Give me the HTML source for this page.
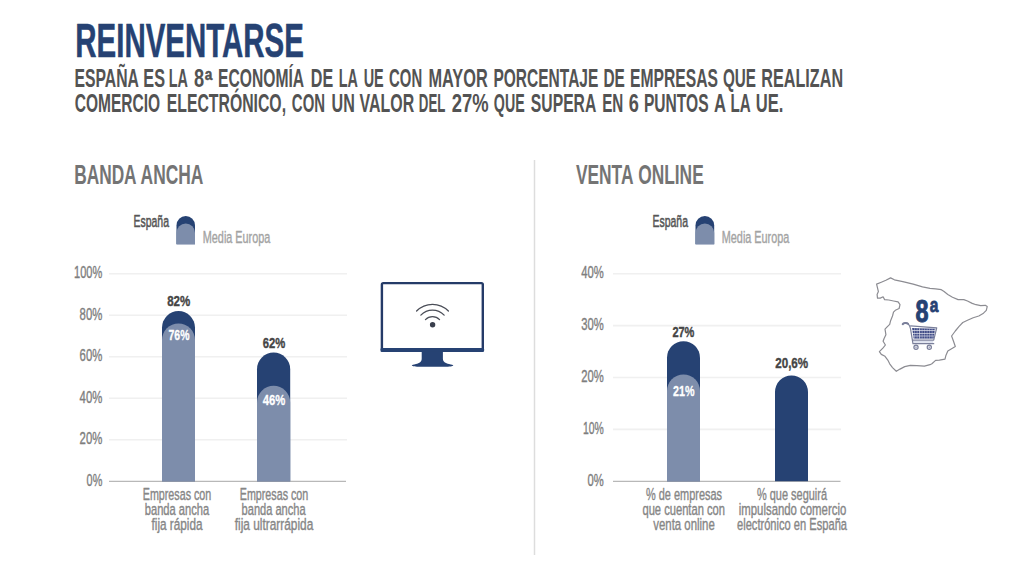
<!DOCTYPE html>
<html lang="es"><head><meta charset="utf-8"><title>Reinventarse</title>
<style>
html,body{margin:0;padding:0;background:#fff;}
body{width:1024px;height:576px;overflow:hidden;font-family:"Liberation Sans",sans-serif;}
svg{display:block;font-family:"Liberation Sans",sans-serif;}
</style></head><body>
<svg width="1024" height="576" viewBox="0 0 1024 576">
<rect width="1024" height="576" fill="#ffffff"/>
<text x="75.3" y="56.6" font-size="47.6" fill="#264273" font-weight="bold" text-anchor="start" textLength="228.5" lengthAdjust="spacingAndGlyphs" stroke="#264273" stroke-width="0.5" stroke-linejoin="round">REINVENTARSE</text>
<text x="74.51" y="87.1" font-size="25.3" fill="#535353" font-weight="bold" text-anchor="start" textLength="64.37" lengthAdjust="spacingAndGlyphs">ESPAÑA</text>
<text x="143.36" y="87.1" font-size="25.3" fill="#535353" font-weight="bold" text-anchor="start" textLength="21.67" lengthAdjust="spacingAndGlyphs">ES</text>
<text x="168.77" y="87.1" font-size="25.3" fill="#535353" font-weight="bold" text-anchor="start" textLength="19.18" lengthAdjust="spacingAndGlyphs">LA</text>
<text x="193.9" y="87.1" font-size="25.3" fill="#535353" font-weight="bold" text-anchor="start" textLength="10.12" lengthAdjust="spacingAndGlyphs">8</text>
<text x="218.11" y="87.1" font-size="25.3" fill="#535353" font-weight="bold" text-anchor="start" textLength="86.07" lengthAdjust="spacingAndGlyphs">ECONOMÍA</text>
<text x="310.75" y="87.1" font-size="25.3" fill="#535353" font-weight="bold" text-anchor="start" textLength="22.38" lengthAdjust="spacingAndGlyphs">DE</text>
<text x="338.77" y="87.1" font-size="25.3" fill="#535353" font-weight="bold" text-anchor="start" textLength="19.18" lengthAdjust="spacingAndGlyphs">LA</text>
<text x="363.65" y="87.1" font-size="25.3" fill="#535353" font-weight="bold" text-anchor="start" textLength="20.09" lengthAdjust="spacingAndGlyphs">UE</text>
<text x="389.11" y="87.1" font-size="25.3" fill="#535353" font-weight="bold" text-anchor="start" textLength="33.06" lengthAdjust="spacingAndGlyphs">CON</text>
<text x="428.42" y="87.1" font-size="25.3" fill="#535353" font-weight="bold" text-anchor="start" textLength="59.3" lengthAdjust="spacingAndGlyphs">MAYOR</text>
<text x="493.44" y="87.1" font-size="25.3" fill="#535353" font-weight="bold" text-anchor="start" textLength="104.9" lengthAdjust="spacingAndGlyphs">PORCENTAJE</text>
<text x="603.45" y="87.1" font-size="25.3" fill="#535353" font-weight="bold" text-anchor="start" textLength="21.46" lengthAdjust="spacingAndGlyphs">DE</text>
<text x="630.11" y="87.1" font-size="25.3" fill="#535353" font-weight="bold" text-anchor="start" textLength="87.86" lengthAdjust="spacingAndGlyphs">EMPRESAS</text>
<text x="722.95" y="87.1" font-size="25.3" fill="#535353" font-weight="bold" text-anchor="start" textLength="33.02" lengthAdjust="spacingAndGlyphs">QUE</text>
<text x="761.36" y="87.1" font-size="25.3" fill="#535353" font-weight="bold" text-anchor="start" textLength="81.74" lengthAdjust="spacingAndGlyphs">REALIZAN</text>
<text x="74.71" y="111.7" font-size="25.3" fill="#535353" font-weight="bold" text-anchor="start" textLength="85.42" lengthAdjust="spacingAndGlyphs">COMERCIO</text>
<text x="166.79" y="111.7" font-size="25.3" fill="#535353" font-weight="bold" text-anchor="start" textLength="119.23" lengthAdjust="spacingAndGlyphs">ELECTRÓNICO,</text>
<text x="291.87" y="111.7" font-size="25.3" fill="#535353" font-weight="bold" text-anchor="start" textLength="33.19" lengthAdjust="spacingAndGlyphs">CON</text>
<text x="331.55" y="111.7" font-size="25.3" fill="#535353" font-weight="bold" text-anchor="start" textLength="23.27" lengthAdjust="spacingAndGlyphs">UN</text>
<text x="359.55" y="111.7" font-size="25.3" fill="#535353" font-weight="bold" text-anchor="start" textLength="54.63" lengthAdjust="spacingAndGlyphs">VALOR</text>
<text x="418.85" y="111.7" font-size="25.3" fill="#535353" font-weight="bold" text-anchor="start" textLength="26.54" lengthAdjust="spacingAndGlyphs">DEL</text>
<text x="451.77" y="111.7" font-size="25.3" fill="#535353" font-weight="bold" text-anchor="start" textLength="36.83" lengthAdjust="spacingAndGlyphs">27%</text>
<text x="493.86" y="111.7" font-size="25.3" fill="#535353" font-weight="bold" text-anchor="start" textLength="30.85" lengthAdjust="spacingAndGlyphs">QUE</text>
<text x="530.87" y="111.7" font-size="25.3" fill="#535353" font-weight="bold" text-anchor="start" textLength="65.4" lengthAdjust="spacingAndGlyphs">SUPERA</text>
<text x="602.16" y="111.7" font-size="25.3" fill="#535353" font-weight="bold" text-anchor="start" textLength="21.09" lengthAdjust="spacingAndGlyphs">EN</text>
<text x="628.76" y="111.7" font-size="25.3" fill="#535353" font-weight="bold" text-anchor="start" textLength="10.1" lengthAdjust="spacingAndGlyphs">6</text>
<text x="643.97" y="111.7" font-size="25.3" fill="#535353" font-weight="bold" text-anchor="start" textLength="64.66" lengthAdjust="spacingAndGlyphs">PUNTOS</text>
<text x="713.88" y="111.7" font-size="25.3" fill="#535353" font-weight="bold" text-anchor="start" textLength="12.04" lengthAdjust="spacingAndGlyphs">A</text>
<text x="730.52" y="111.7" font-size="25.3" fill="#535353" font-weight="bold" text-anchor="start" textLength="20.22" lengthAdjust="spacingAndGlyphs">LA</text>
<text x="755.68" y="111.7" font-size="25.3" fill="#535353" font-weight="bold" text-anchor="start" textLength="27.62" lengthAdjust="spacingAndGlyphs">UE.</text>
<text x="204.7" y="79.7" font-size="16.5" fill="#535353" font-weight="bold" text-anchor="start" textLength="7.6" lengthAdjust="spacingAndGlyphs" stroke="#535353" stroke-width="0.5" stroke-linejoin="round">a</text>
<line x1="534.5" y1="160.00" x2="534.5" y2="555.00" stroke="#dddddd" stroke-width="1.5"/>
<text x="74.2" y="184.4" font-size="27.8" fill="#747474" font-weight="bold" text-anchor="start" textLength="62.4" lengthAdjust="spacingAndGlyphs">BANDA</text>
<text x="140.6" y="184.4" font-size="27.8" fill="#747474" font-weight="bold" text-anchor="start" textLength="62.8" lengthAdjust="spacingAndGlyphs">ANCHA</text>
<text x="133.5" y="226.7" font-size="16.8" fill="#565656" font-weight="normal" text-anchor="start" textLength="35.5" lengthAdjust="spacingAndGlyphs" stroke="#565656" stroke-width="0.55" stroke-linejoin="round">España</text>
<path d="M176.5 244.3V225.25A9.25 9.25 0 0 1 195.0 225.25V244.3Z" fill="#264273"/>
<path d="M176.5 244.3V232.75A9.25 9.25 0 0 1 195.0 232.75V244.3Z" fill="#7d8dab"/>
<text x="202.8" y="243.2" font-size="16.8" fill="#a3a3a3" font-weight="normal" text-anchor="start" textLength="67.5" lengthAdjust="spacingAndGlyphs" stroke="#a3a3a3" stroke-width="0.4" stroke-linejoin="round">Media Europa</text>
<line x1="109" y1="273.70" x2="347" y2="273.70" stroke="#f0f0f0" stroke-width="1.6"/>
<line x1="109" y1="315.22" x2="347" y2="315.22" stroke="#f0f0f0" stroke-width="1.6"/>
<line x1="109" y1="356.74" x2="347" y2="356.74" stroke="#f0f0f0" stroke-width="1.6"/>
<line x1="109" y1="398.26" x2="347" y2="398.26" stroke="#f0f0f0" stroke-width="1.6"/>
<line x1="109" y1="439.78" x2="347" y2="439.78" stroke="#f0f0f0" stroke-width="1.6"/>
<line x1="109" y1="481.30" x2="346" y2="481.30" stroke="#b8b8b8" stroke-width="1.3"/>
<text x="102.3" y="278.09999999999997" font-size="16.8" fill="#7e7e7e" font-weight="normal" text-anchor="end" textLength="28.2" lengthAdjust="spacingAndGlyphs" stroke="#7e7e7e" stroke-width="0.4" stroke-linejoin="round">100%</text>
<text x="102.3" y="319.62" font-size="16.8" fill="#7e7e7e" font-weight="normal" text-anchor="end" textLength="22.7" lengthAdjust="spacingAndGlyphs" stroke="#7e7e7e" stroke-width="0.4" stroke-linejoin="round">80%</text>
<text x="102.3" y="361.14" font-size="16.8" fill="#7e7e7e" font-weight="normal" text-anchor="end" textLength="22.7" lengthAdjust="spacingAndGlyphs" stroke="#7e7e7e" stroke-width="0.4" stroke-linejoin="round">60%</text>
<text x="102.3" y="402.65999999999997" font-size="16.8" fill="#7e7e7e" font-weight="normal" text-anchor="end" textLength="22.7" lengthAdjust="spacingAndGlyphs" stroke="#7e7e7e" stroke-width="0.4" stroke-linejoin="round">40%</text>
<text x="102.3" y="444.18" font-size="16.8" fill="#7e7e7e" font-weight="normal" text-anchor="end" textLength="22.7" lengthAdjust="spacingAndGlyphs" stroke="#7e7e7e" stroke-width="0.4" stroke-linejoin="round">20%</text>
<text x="102.3" y="485.7" font-size="16.8" fill="#7e7e7e" font-weight="normal" text-anchor="end" textLength="15.7" lengthAdjust="spacingAndGlyphs" stroke="#7e7e7e" stroke-width="0.4" stroke-linejoin="round">0%</text>
<path d="M162 481.3V327.57A16.5 16.5 0 0 1 195 327.57V481.3Z" fill="#264273"/>
<path d="M162 481.3V340.02A16.5 16.5 0 0 1 195 340.02V481.3Z" fill="#7d8dab"/>
<path d="M257 481.3V369.19A16.6 16.6 0 0 1 290.2 369.19V481.3Z" fill="#264273"/>
<path d="M257 481.3V402.40A16.6 16.6 0 0 1 290.2 402.40V481.3Z" fill="#7d8dab"/>
<text x="178.7" y="306.2" font-size="15.2" fill="#454545" font-weight="bold" text-anchor="middle" textLength="23" lengthAdjust="spacingAndGlyphs" stroke="#454545" stroke-width="0.4" stroke-linejoin="round">82%</text>
<text x="179" y="340" font-size="15.2" fill="#ffffff" font-weight="bold" text-anchor="middle" textLength="21" lengthAdjust="spacingAndGlyphs" stroke="#ffffff" stroke-width="0.3" stroke-linejoin="round">76%</text>
<text x="274" y="347.6" font-size="15.2" fill="#454545" font-weight="bold" text-anchor="middle" textLength="22.5" lengthAdjust="spacingAndGlyphs" stroke="#454545" stroke-width="0.4" stroke-linejoin="round">62%</text>
<text x="274" y="405" font-size="15.2" fill="#ffffff" font-weight="bold" text-anchor="middle" textLength="22.5" lengthAdjust="spacingAndGlyphs" stroke="#ffffff" stroke-width="0.3" stroke-linejoin="round">46%</text>
<text x="177" y="499.7" font-size="16.8" fill="#868686" font-weight="normal" text-anchor="middle" textLength="68.5" lengthAdjust="spacingAndGlyphs" stroke="#868686" stroke-width="0.4" stroke-linejoin="round">Empresas con</text>
<text x="177" y="515" font-size="16.8" fill="#868686" font-weight="normal" text-anchor="middle" textLength="64.5" lengthAdjust="spacingAndGlyphs" stroke="#868686" stroke-width="0.4" stroke-linejoin="round">banda ancha</text>
<text x="177" y="530.2" font-size="16.8" fill="#868686" font-weight="normal" text-anchor="middle" textLength="51" lengthAdjust="spacingAndGlyphs" stroke="#868686" stroke-width="0.4" stroke-linejoin="round">fija rápida</text>
<text x="274" y="499.7" font-size="16.8" fill="#868686" font-weight="normal" text-anchor="middle" textLength="68.5" lengthAdjust="spacingAndGlyphs" stroke="#868686" stroke-width="0.4" stroke-linejoin="round">Empresas con</text>
<text x="273.6" y="515" font-size="16.8" fill="#868686" font-weight="normal" text-anchor="middle" textLength="64" lengthAdjust="spacingAndGlyphs" stroke="#868686" stroke-width="0.4" stroke-linejoin="round">banda ancha</text>
<text x="274" y="530.2" font-size="16.8" fill="#868686" font-weight="normal" text-anchor="middle" textLength="78.5" lengthAdjust="spacingAndGlyphs" stroke="#868686" stroke-width="0.4" stroke-linejoin="round">fija ultrarrápida</text>
<rect x="381.9" y="283.1" width="100.9" height="66.9" rx="1.4" fill="#fff" stroke="#253b68" stroke-width="2.4"/>
<rect x="380.5" y="348.1" width="103.6" height="3.9" rx="1.2" fill="#264273"/>
<path d="M421.7 351.5H442.9V358.5C442.9 361.8 445.5 363.2 449 364C451.5 364.6 453.5 365 453.3 365.6C453 366.5 449 366.8 445 366.8H420C416 366.8 412 366.5 411.8 365.6C411.6 365 413.5 364.6 416 364C419.5 363.2 421.7 361.8 421.7 358.5Z" fill="#264273"/>
<circle cx="432.6" cy="324.8" r="2.7" fill="#3a3f4d"/>
<path d="M425.45 319.59A9.8 9.8 0 0 1 439.55 319.59" fill="none" stroke="#4a4d57" stroke-width="1.25" stroke-linecap="round"/>
<path d="M420.85 315.15A16.2 16.2 0 0 1 444.15 315.15" fill="none" stroke="#4a4d57" stroke-width="1.25" stroke-linecap="round"/>
<path d="M416.60 311.05A22.1 22.1 0 0 1 448.40 311.05" fill="none" stroke="#4a4d57" stroke-width="1.25" stroke-linecap="round"/>
<text x="575.9" y="184.4" font-size="27.8" fill="#747474" font-weight="bold" text-anchor="start" textLength="57.6" lengthAdjust="spacingAndGlyphs">VENTA</text>
<text x="638.2" y="184.4" font-size="27.8" fill="#747474" font-weight="bold" text-anchor="start" textLength="65.5" lengthAdjust="spacingAndGlyphs">ONLINE</text>
<text x="652.5" y="226.7" font-size="16.8" fill="#565656" font-weight="normal" text-anchor="start" textLength="35.5" lengthAdjust="spacingAndGlyphs" stroke="#565656" stroke-width="0.55" stroke-linejoin="round">España</text>
<path d="M695.5 244.3V225.35A9.35 9.35 0 0 1 714.2 225.35V244.3Z" fill="#264273"/>
<path d="M695.5 244.3V232.85A9.35 9.35 0 0 1 714.2 232.85V244.3Z" fill="#7d8dab"/>
<text x="721.8" y="243.2" font-size="16.8" fill="#a3a3a3" font-weight="normal" text-anchor="start" textLength="67.5" lengthAdjust="spacingAndGlyphs" stroke="#a3a3a3" stroke-width="0.4" stroke-linejoin="round">Media Europa</text>
<line x1="613" y1="273.70" x2="841" y2="273.70" stroke="#f0f0f0" stroke-width="1.6"/>
<line x1="613" y1="325.60" x2="841" y2="325.60" stroke="#f0f0f0" stroke-width="1.6"/>
<line x1="613" y1="377.50" x2="841" y2="377.50" stroke="#f0f0f0" stroke-width="1.6"/>
<line x1="613" y1="429.40" x2="841" y2="429.40" stroke="#f0f0f0" stroke-width="1.6"/>
<line x1="613" y1="481.30" x2="840.5" y2="481.30" stroke="#b8b8b8" stroke-width="1.3"/>
<text x="603.8" y="278.1" font-size="16.8" fill="#7e7e7e" font-weight="normal" text-anchor="end" textLength="22.5" lengthAdjust="spacingAndGlyphs" stroke="#7e7e7e" stroke-width="0.4" stroke-linejoin="round">40%</text>
<text x="603.8" y="330.0" font-size="16.8" fill="#7e7e7e" font-weight="normal" text-anchor="end" textLength="22.5" lengthAdjust="spacingAndGlyphs" stroke="#7e7e7e" stroke-width="0.4" stroke-linejoin="round">30%</text>
<text x="603.8" y="381.9" font-size="16.8" fill="#7e7e7e" font-weight="normal" text-anchor="end" textLength="22.5" lengthAdjust="spacingAndGlyphs" stroke="#7e7e7e" stroke-width="0.4" stroke-linejoin="round">20%</text>
<text x="603.8" y="433.8" font-size="16.8" fill="#7e7e7e" font-weight="normal" text-anchor="end" textLength="20.8" lengthAdjust="spacingAndGlyphs" stroke="#7e7e7e" stroke-width="0.4" stroke-linejoin="round">10%</text>
<text x="603.8" y="485.7" font-size="16.8" fill="#7e7e7e" font-weight="normal" text-anchor="end" textLength="16.2" lengthAdjust="spacingAndGlyphs" stroke="#7e7e7e" stroke-width="0.4" stroke-linejoin="round">0%</text>
<path d="M667 481.3V357.67A16.5 16.5 0 0 1 700 357.67V481.3Z" fill="#264273"/>
<path d="M667 481.3V391.00A16.5 16.5 0 0 1 700 391.00V481.3Z" fill="#7d8dab"/>
<path d="M775 481.3V392.00A16.5 16.5 0 0 1 808 392.00V481.3Z" fill="#264273"/>
<text x="683.4" y="336.8" font-size="15.2" fill="#454545" font-weight="bold" text-anchor="middle" textLength="22" lengthAdjust="spacingAndGlyphs" stroke="#454545" stroke-width="0.4" stroke-linejoin="round">27%</text>
<text x="683.7" y="396.3" font-size="15.2" fill="#ffffff" font-weight="bold" text-anchor="middle" textLength="21.5" lengthAdjust="spacingAndGlyphs" stroke="#ffffff" stroke-width="0.3" stroke-linejoin="round">21%</text>
<text x="791.7" y="368.3" font-size="15.2" fill="#454545" font-weight="bold" text-anchor="middle" textLength="33" lengthAdjust="spacingAndGlyphs" stroke="#454545" stroke-width="0.4" stroke-linejoin="round">20,6%</text>
<text x="684" y="499.7" font-size="16.8" fill="#868686" font-weight="normal" text-anchor="middle" textLength="76" lengthAdjust="spacingAndGlyphs" stroke="#868686" stroke-width="0.4" stroke-linejoin="round">% de empresas</text>
<text x="683.7" y="515" font-size="16.8" fill="#868686" font-weight="normal" text-anchor="middle" textLength="82.5" lengthAdjust="spacingAndGlyphs" stroke="#868686" stroke-width="0.4" stroke-linejoin="round">que cuentan con</text>
<text x="684" y="530.2" font-size="16.8" fill="#868686" font-weight="normal" text-anchor="middle" textLength="61.5" lengthAdjust="spacingAndGlyphs" stroke="#868686" stroke-width="0.4" stroke-linejoin="round">venta online</text>
<text x="792" y="499.7" font-size="16.8" fill="#868686" font-weight="normal" text-anchor="middle" textLength="70" lengthAdjust="spacingAndGlyphs" stroke="#868686" stroke-width="0.4" stroke-linejoin="round">% que seguirá</text>
<text x="792.5" y="515" font-size="16.8" fill="#868686" font-weight="normal" text-anchor="middle" textLength="107.5" lengthAdjust="spacingAndGlyphs" stroke="#868686" stroke-width="0.4" stroke-linejoin="round">impulsando comercio</text>
<text x="792" y="530.2" font-size="16.8" fill="#868686" font-weight="normal" text-anchor="middle" textLength="110" lengthAdjust="spacingAndGlyphs" stroke="#868686" stroke-width="0.4" stroke-linejoin="round">electrónico en España</text>
<path d="M876.6 284.1L881.3 282.2L885.9 280.3L890.6 277.9L894.4 279.8L902.8 281.6L913.2 284.1L922.5 286.9L930.0 288.4L935.6 288.8L941.3 289.7L944.1 291.6L947.8 294.4L952.5 297.2L958.1 299.6L963.8 299.6L967.5 301.0L972.2 303.4L976.0 304.7L980.7 305.6L985.3 305.3L987.2 306.6L986.3 310.3L983.5 313.2L978.8 316.0L973.2 317.8L967.5 320.3L962.8 322.5L959.1 326.3L955.3 331.0L951.6 336.0L953.5 341.3L955.3 346.5L951.6 348.8L947.8 351.1L945.9 355.4L945.0 359.1L939.4 360.1L935.6 360.4L931.9 363.8L930.0 364.7L924.4 366.1L916.9 365.7L910.3 365.3L904.7 366.6L900.0 369.1L896.3 371.3L892.5 367.6L889.7 363.8L887.8 360.1L885.0 356.3L881.3 354.4L879.4 351.6L883.1 347.9L885.4 345.0L883.1 341.3L884.1 338.5L885.9 334.7L885.0 329.1L886.9 327.2L889.7 324.4L890.6 320.7L892.5 316.0L893.5 312.2L895.3 310.3L899.1 308.5L900.0 304.7L898.1 301.9L893.5 301.0L888.8 300.0L884.6 299.6L883.1 296.8L880.3 298.1L877.5 298.1L877.1 294.4L878.4 291.6L877.5 287.8Z" fill="#fff" stroke="#8c8c92" stroke-width="1.2" stroke-linejoin="round"/>
<text x="915.5" y="322.2" font-size="31" fill="#264273" font-weight="bold" text-anchor="start" textLength="13.0" lengthAdjust="spacingAndGlyphs" stroke="#264273" stroke-width="1.0" stroke-linejoin="round">8</text>
<text x="929.7" y="311.6" font-size="20" fill="#264273" font-weight="bold" text-anchor="start" textLength="8.6" lengthAdjust="spacingAndGlyphs" stroke="#264273" stroke-width="0.8" stroke-linejoin="round">a</text>
<path d="M902.7 324.2C903.4 322.8 906.6 322.5 908 323.7C909.5 325 910.1 326.6 910.5 328.6L912.4 340.1H933.7L936.7 327.8L910.6 325.9" fill="none" stroke="#7a7f9a" stroke-width="1.2" stroke-linejoin="round" stroke-linecap="round"/>
<path d="M902.7 324.2C903.4 322.8 906.6 322.5 908 323.7" fill="none" stroke="#7a7f9a" stroke-width="2" stroke-linecap="round"/>
<clipPath id="bk"><path d="M912.1 328L935.3 328.7L933.5 338.8L913.7 338.8Z"/></clipPath>
<g clip-path="url(#bk)"><rect x="911" y="328.0" width="26" height="2.30" fill="#3f4b86"/><rect x="911" y="330.9" width="26" height="2.10" fill="#3f4b86"/><rect x="911" y="333.6" width="26" height="2.10" fill="#3f4b86"/><rect x="911" y="336.3" width="26" height="2.50" fill="#3f4b86"/><line x1="914.6" y1="327" x2="914.6" y2="340" stroke="#e6e8f2" stroke-width="0.4"/><line x1="917.1" y1="327" x2="917.1" y2="340" stroke="#e6e8f2" stroke-width="0.4"/><line x1="919.6" y1="327" x2="919.6" y2="340" stroke="#e6e8f2" stroke-width="0.7"/><line x1="922.1" y1="327" x2="922.1" y2="340" stroke="#e6e8f2" stroke-width="0.4"/><line x1="924.6" y1="327" x2="924.6" y2="340" stroke="#e6e8f2" stroke-width="0.4"/><line x1="927.1" y1="327" x2="927.1" y2="340" stroke="#e6e8f2" stroke-width="0.4"/><line x1="929.6" y1="327" x2="929.6" y2="340" stroke="#e6e8f2" stroke-width="0.4"/><line x1="932.1" y1="327" x2="932.1" y2="340" stroke="#e6e8f2" stroke-width="0.4"/><line x1="934.6" y1="327" x2="934.6" y2="340" stroke="#e6e8f2" stroke-width="0.4"/></g>
<path d="M912.5 340.3L913 343.7H933.7" fill="none" stroke="#7a7f9a" stroke-width="1.3" stroke-linecap="round" stroke-linejoin="round"/>
<rect x="913.6" y="341.2" width="19.6" height="1.5" fill="#d5daea"/>
<circle cx="916" cy="347.2" r="2.1" fill="#e8eaf2" stroke="#7a7f9a" stroke-width="1.2"/>
<circle cx="916" cy="347.2" r="0.6" fill="#7a7f9a"/>
<circle cx="929.3" cy="347.2" r="2.1" fill="#e8eaf2" stroke="#7a7f9a" stroke-width="1.2"/>
<circle cx="929.3" cy="347.2" r="0.6" fill="#7a7f9a"/>
</svg>
</body></html>
